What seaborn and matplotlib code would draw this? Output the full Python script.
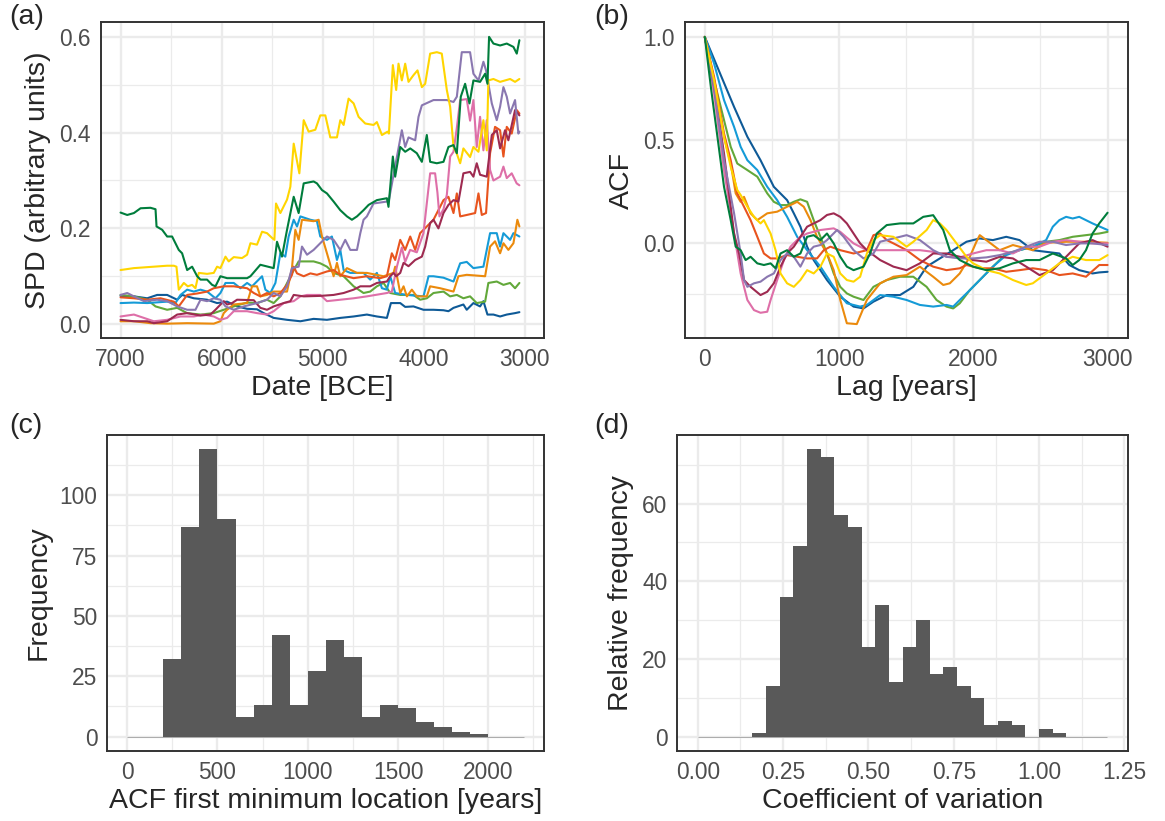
import numpy as np
import pandas as pd
import matplotlib
matplotlib.use("Agg")
import matplotlib.pyplot as plt
import seaborn as sns
from matplotlib.ticker import MultipleLocator, FormatStrFormatter

# ---- panel (a): SPD curves, (year BCE, SPD) ----
spd_dkblue = [(7000, .059), (6868, .058), (6736, .054), (6638, .061), (6539, .061), (6440, .051), (6391, .061),
              (6275, .054), (6144, .051), (6045, .044), (5946, .047), (5847, .037), (5748, .032), (5650, .031),
              (5584, .023), (5485, .013), (5353, .009), (5221, .006), (5090, .011), (4958, .009), (4826, .013),
              (4694, .016), (4563, .020), (4464, .016), (4365, .013), (4325, .044), (4233, .044), (4184, .036),
              (4102, .037), (4003, .030), (3904, .030), (3805, .029), (3756, .027), (3706, .034), (3608, .041),
              (3575, .030), (3509, .044), (3443, .037), (3410, .048), (3370, .020), (3311, .020), (3245, .016),
              (3179, .020), (3097, .023), (3054, .025)]
spd_ltgreen = [(7000, .061), (6868, .058), (6736, .051), (6654, .037), (6539, .030), (6440, .034), (6341, .023),
               (6209, .020), (6078, .023), (5979, .030), (5880, .037), (5748, .045), (5650, .044), (5551, .051),
               (5485, .044), (5419, .058), (5304, .106), (5238, .131), (5090, .131), (5024, .127), (4958, .120),
               (4892, .107), (4793, .100), (4694, .079), (4596, .065), (4530, .068), (4464, .079), (4398, .086),
               (4332, .065), (4233, .061), (4102, .061), (4036, .051), (3970, .054), (3904, .065), (3805, .068),
               (3739, .058), (3673, .061), (3608, .054), (3542, .058), (3476, .044), (3393, .047), (3361, .086),
               (3278, .089), (3212, .082), (3146, .086), (3097, .075), (3054, .086)]
spd_ltblue = [(7000, .044), (6868, .045), (6736, .044), (6539, .047), (6457, .044), (6407, .061), (6341, .072),
              (6275, .068), (6209, .072), (6144, .068), (6061, .054), (6012, .065), (5962, .086), (5880, .086),
              (5814, .075), (5748, .086), (5699, .079), (5633, .093), (5600, .100), (5567, .072), (5518, .065),
              (5468, .086), (5419, .148), (5370, .141), (5337, .183), (5287, .218), (5254, .204), (5221, .225),
              (5122, .218), (5057, .215), (5024, .183), (4958, .176), (4909, .183), (4859, .134), (4826, .155),
              (4793, .113), (4727, .107), (4596, .107), (4530, .093), (4464, .107), (4414, .075), (4365, .072),
              (4332, .100), (4283, .065), (4167, .061), (4003, .058), (3953, .100), (3904, .100), (3805, .097),
              (3706, .089), (3640, .127), (3575, .130), (3509, .117), (3410, .120), (3344, .190), (3278, .190),
              (3245, .162), (3212, .190), (3146, .176), (3113, .190), (3054, .183)]
spd_orange = [(7000, .006), (6868, .006), (6704, .002), (6539, .001), (6341, .002), (6078, .001), (6012, .006),
              (5979, .023), (5946, .030), (5880, .041), (5748, .044), (5699, .079), (5650, .079), (5617, .058),
              (5551, .061), (5485, .068), (5353, .068), (5304, .117), (5271, .197), (5238, .176), (5205, .218),
              (5090, .215), (5040, .218), (5007, .183), (4958, .148), (4892, .100), (4859, .128), (4826, .100),
              (4760, .117), (4661, .107), (4563, .107), (4398, .100), (4299, .107), (4283, .120), (4233, .065),
              (4200, .079), (4167, .058), (4118, .072), (4069, .058), (3970, .058), (3937, .079), (3838, .075),
              (3706, .068), (3657, .100), (3575, .103), (3393, .100), (3344, .162), (3295, .173), (3245, .148),
              (3212, .169), (3163, .155), (3113, .169), (3074, .218), (3054, .204)]
spd_redorange = [(7000, .056), (6868, .054), (6736, .051), (6605, .054), (6473, .047), (6424, .037), (6341, .061),
                 (6242, .064), (6144, .068), (6078, .075), (5979, .079), (5880, .079), (5748, .075), (5682, .065),
                 (5617, .058), (5551, .065), (5485, .058), (5419, .065), (5353, .082), (5304, .103), (5287, .120),
                 (5254, .106), (5188, .100), (5122, .106), (5057, .103), (4958, .110), (4892, .113), (4826, .103),
                 (4694, .096), (4563, .100), (4431, .096), (4365, .100), (4316, .148), (4283, .134), (4233, .176),
                 (4184, .155), (4134, .183), (4085, .155), (4036, .190), (3970, .204), (3904, .218), (3805, .259),
                 (3756, .266), (3706, .232), (3673, .273), (3640, .225), (3575, .228), (3492, .232), (3459, .273),
                 (3426, .228), (3384, .232), (3344, .357), (3295, .412), (3245, .405), (3212, .350), (3179, .412),
                 (3130, .398), (3080, .447), (3054, .440)]
spd_pink = [(7000, .016), (6868, .020), (6769, .013), (6671, .006), (6539, .009), (6407, .016), (6275, .016),
            (6177, .020), (6078, .016), (6012, .009), (5946, .013), (5880, .027), (5748, .027), (5650, .023),
            (5551, .020), (5485, .027), (5386, .044), (5287, .048), (5221, .058), (5155, .061), (5024, .061),
            (4958, .048), (4826, .051), (4694, .054), (4563, .058), (4365, .065), (4316, .068), (4266, .120),
            (4217, .160), (4184, .130), (4135, .155), (4069, .150), (4003, .190), (3937, .315), (3888, .315),
            (3865, .275), (3845, .225), (3805, .240), (3772, .270), (3739, .350), (3706, .360), (3673, .410),
            (3640, .468), (3575, .470), (3542, .425), (3509, .468), (3476, .370), (3443, .433), (3410, .363),
            (3377, .426), (3344, .322), (3311, .300), (3245, .308), (3212, .329), (3179, .305), (3130, .315),
            (3081, .294), (3054, .290)]
spd_maroon = [(7000, .009), (6868, .006), (6736, .006), (6671, .002), (6539, .006), (6440, .020), (6341, .023),
              (6209, .018), (6111, .020), (6061, .030), (5979, .048), (5946, .041), (5897, .044), (5847, .051),
              (5682, .050), (5617, .034), (5551, .030), (5485, .037), (5386, .044), (5320, .048), (5287, .061),
              (5188, .058), (5024, .059), (4892, .061), (4793, .065), (4694, .072), (4628, .079), (4530, .079),
              (4464, .086), (4365, .089), (4332, .100), (4299, .107), (4273, .100), (4233, .107), (4200, .128),
              (4151, .121), (4085, .134), (4019, .141), (3986, .162), (3937, .211), (3904, .218), (3855, .200),
              (3805, .232), (3756, .249), (3706, .259), (3657, .256), (3608, .315), (3542, .318), (3509, .308),
              (3476, .336), (3443, .312), (3377, .308), (3327, .395), (3278, .405), (3245, .367), (3196, .405),
              (3163, .384), (3097, .447), (3054, .436)]
spd_purple = [(7000, .061), (6934, .065), (6868, .058), (6769, .048), (6638, .051), (6539, .048), (6440, .037),
              (6341, .030), (6259, .030), (6209, .051), (6144, .048), (6078, .054), (6012, .051), (5962, .037),
              (5880, .030), (5781, .037), (5650, .044), (5551, .051), (5485, .065), (5419, .058), (5353, .079),
              (5304, .117), (5238, .120), (5205, .162), (5155, .145), (5090, .155), (5024, .169), (4958, .183),
              (4892, .176), (4826, .155), (4777, .176), (4727, .155), (4661, .155), (4628, .190), (4596, .218),
              (4563, .225), (4497, .252), (4365, .256), (4345, .259), (4217, .405), (4184, .370), (4151, .390),
              (4085, .384), (4052, .433), (4019, .457), (3904, .468), (3772, .468), (3706, .464), (3673, .475),
              (3624, .568), (3542, .568), (3509, .523), (3459, .509), (3410, .548), (3384, .530), (3327, .461),
              (3278, .426), (3245, .454), (3212, .495), (3179, .475), (3146, .440), (3097, .468), (3064, .398),
              (3054, .402)]
spd_yellow = [(7000, .113), (6868, .117), (6671, .120), (6539, .122), (6473, .122), (6447, .120), (6424, .072),
              (6374, .086), (6335, .079), (6292, .082), (6259, .075), (6226, .107), (6144, .105), (6078, .107),
              (6045, .120), (6012, .117), (5962, .141), (5930, .131), (5880, .140), (5798, .138), (5748, .145),
              (5715, .169), (5650, .166), (5600, .193), (5551, .190), (5501, .180), (5478, .176), (5462, .252),
              (5419, .232), (5353, .260), (5320, .287), (5287, .377), (5231, .315), (5188, .426), (5139, .402),
              (5073, .406), (5024, .436), (4974, .436), (4925, .390), (4859, .390), (4826, .426), (4793, .416),
              (4744, .471), (4694, .461), (4645, .433), (4579, .419), (4497, .416), (4464, .422), (4414, .395),
              (4358, .402), (4345, .398), (4306, .541), (4273, .489), (4250, .544), (4217, .509), (4184, .544),
              (4151, .506), (4102, .520), (4062, .530), (4019, .495), (3986, .502), (3937, .565), (3871, .568),
              (3822, .565), (3772, .489), (3739, .454), (3706, .370), (3673, .356), (3640, .336), (3608, .367),
              (3542, .349), (3509, .370), (3459, .360), (3410, .426), (3377, .363), (3361, .509), (3311, .512),
              (3245, .506), (3146, .512), (3097, .506), (3054, .512)]
spd_dkgreen = [(7000, .233), (6934, .228), (6868, .232), (6802, .242), (6704, .243), (6654, .240), (6644, .204),
               (6588, .197), (6539, .183), (6490, .183), (6424, .155), (6391, .148), (6341, .113), (6292, .120),
               (6242, .100), (6209, .093), (6144, .093), (6094, .082), (6061, .079), (6012, .100), (5946, .096),
               (5748, .096), (5715, .100), (5617, .124), (5485, .117), (5452, .172), (5403, .141), (5353, .197),
               (5287, .266), (5238, .232), (5188, .294), (5090, .298), (5057, .294), (5007, .280), (4958, .273),
               (4892, .256), (4826, .238), (4760, .225), (4711, .218), (4661, .225), (4596, .238), (4546, .249),
               (4464, .259), (4365, .263), (4349, .245), (4306, .350), (4283, .308), (4233, .370), (4184, .360),
               (4134, .367), (4069, .357), (4019, .339), (3970, .395), (3937, .339), (3871, .336), (3805, .339),
               (3756, .370), (3706, .374), (3673, .357), (3634, .475), (3591, .502), (3548, .461), (3509, .509),
               (3443, .506), (3393, .523), (3370, .502), (3354, .600), (3311, .586), (3245, .582), (3179, .586),
               (3113, .579), (3080, .565), (3054, .593)]

# ---- panel (b): ACF curves, (lag in years, ACF) ----
acf_dkblue = [(0, 1.0), (119, .814), (218, .66), (317, .515), (415, .401), (514, .272), (613, .207), (663, .143),
              (712, .078), (762, -.019), (811, -.084), (910, -.181), (1009, -.262), (1108, -.31), (1182, -.319),
              (1256, -.286), (1355, -.254), (1454, -.254), (1553, -.214), (1652, -.116), (1751, -.076),
              (1850, -.036), (1949, .005), (2048, .021), (2146, .013), (2245, .029), (2295, .021), (2344, .013),
              (2443, -.036), (2542, -.044), (2641, -.052), (2715, -.108), (2789, -.133), (2888, -.149),
              (2938, -.144), (3000, -.141)]
acf_ltblue = [(0, 1.0), (69, .871), (143, .693), (218, .563), (267, .466), (317, .401), (391, .353), (465, .272),
              (539, .207), (613, .126), (688, .029), (762, -.036), (861, -.116), (960, -.214), (1058, -.294),
              (1157, -.31), (1207, -.302), (1306, -.254), (1405, -.262), (1503, -.278), (1602, -.302),
              (1701, -.31), (1800, -.302), (1850, -.31), (1899, -.278), (1974, -.23), (2048, -.181),
              (2146, -.116), (2245, -.06), (2344, -.036), (2443, -.019), (2542, .013), (2592, .078),
              (2641, .11), (2691, .126), (2740, .118), (2789, .126), (2888, .094), (3000, .062)]
acf_ltgreen = [(0, 1.0), (69, .79), (143, .596), (193, .466), (242, .385), (317, .353), (391, .321), (465, .24),
               (514, .199), (564, .183), (613, .183), (663, .199), (712, .211), (762, .199), (811, .11),
               (861, .029), (910, -.052), (960, -.149), (1009, -.214), (1058, -.246), (1108, -.262),
               (1182, -.278), (1256, -.214), (1355, -.181), (1454, -.165), (1553, -.165), (1652, -.214),
               (1726, -.278), (1800, -.31), (1850, -.319), (1899, -.294), (1974, -.23), (2048, -.181),
               (2146, -.116), (2245, -.052), (2344, -.036), (2443, -.019), (2542, .005), (2641, .013),
               (2740, .029), (2839, .037), (2938, .045), (3000, .053)]
acf_orange = [(0, 1.0), (69, .79), (143, .515), (193, .385), (230, .24), (267, .199), (292, .223), (341, .143),
              (391, .11), (465, .143), (539, .151), (613, .175), (688, .199), (737, .175), (787, .11),
              (836, .029), (910, -.052), (960, -.133), (1009, -.278), (1058, -.391), (1132, -.395),
              (1207, -.278), (1306, -.197), (1405, -.165), (1503, -.157), (1602, -.116), (1701, -.165),
              (1776, -.205), (1825, -.197), (1899, -.149), (1974, -.068), (2023, .005), (2048, .037),
              (2097, .013), (2196, -.036), (2295, -.011), (2443, -.036), (2542, .0), (2691, .005),
              (2839, .005), (3000, .0)]
acf_redorange = [(0, 1.0), (69, .806), (143, .531), (193, .401), (242, .24), (292, .175), (341, .11), (391, .029),
                 (440, -.052), (490, -.076), (539, -.076), (613, -.06), (688, -.068), (762, -.076), (836, -.076),
                 (886, -.036), (935, -.019), (1009, -.036), (1108, -.052), (1207, -.036), (1256, .037),
                 (1306, .045), (1355, .013), (1405, -.003), (1503, -.036), (1602, -.084), (1701, -.116),
                 (1800, -.133), (1899, -.124), (1949, -.108), (2048, -.124), (2146, -.124), (2245, -.141),
                 (2344, -.133), (2443, -.124), (2542, -.133), (2641, -.157), (2740, -.149), (2839, -.165),
                 (2938, -.108), (3000, -.108)]
acf_yellow = [(0, 1.0), (69, .79), (143, .515), (193, .369), (242, .256), (267, .232), (317, .175), (366, .126),
              (415, .094), (440, .11), (490, .045), (527, -.036), (564, -.149), (613, -.197), (663, -.214),
              (712, -.181), (762, -.133), (811, -.149), (861, -.116), (910, -.052), (960, -.068),
              (1009, -.149), (1058, -.181), (1108, -.189), (1157, -.165), (1207, -.052), (1256, .013),
              (1306, .037), (1405, .029), (1503, -.019), (1553, .005), (1652, .062), (1701, .11), (1751, .094),
              (1800, .062), (1875, -.003), (1949, -.068), (1998, -.1), (2048, -.116), (2097, -.133),
              (2196, -.149), (2295, -.181), (2394, -.205), (2443, -.197), (2542, -.149), (2641, -.1),
              (2740, -.068), (2839, -.084), (2938, -.084), (3000, -.06)]
acf_purple = [(0, 1.0), (69, .757), (143, .401), (218, .143), (267, -.052), (292, -.181), (317, -.214),
              (366, -.197), (415, -.189), (465, -.165), (514, -.149), (564, -.084), (613, -.052), (663, -.068),
              (712, -.116), (762, -.052), (811, -.019), (861, -.011), (910, .013), (985, .062), (1034, .029),
              (1108, -.036), (1182, -.076), (1256, -.052), (1306, .005), (1405, .021), (1503, .037),
              (1602, .013), (1701, -.036), (1800, -.068), (1899, -.076), (1998, -.076), (2097, -.071),
              (2196, -.06), (2295, -.044), (2394, -.019), (2493, .005), (2592, .005), (2691, -.011),
              (2789, -.003), (2888, -.003), (3000, -.011)]
acf_pink = [(0, 1.0), (69, .725), (143, .353), (218, .045), (267, -.149), (292, -.214), (317, -.278),
            (366, -.327), (415, -.34), (465, -.335), (490, -.278), (539, -.181), (589, -.084), (638, -.019),
            (712, .029), (762, .045), (861, .062), (960, .07), (1009, .053), (1108, -.003), (1207, -.036),
            (1306, -.036), (1454, -.036), (1602, -.036), (1701, -.044), (1800, -.068), (1899, -.071),
            (1998, -.052), (2097, -.036), (2196, -.036), (2295, -.052), (2394, -.019), (2493, -.019),
            (2592, .005), (2691, .013), (2789, .005), (2888, -.003), (3000, -.003)]
acf_maroon = [(0, 1.0), (69, .757), (143, .434), (218, .045), (255, -.052), (292, -.181), (341, -.214),
              (415, -.254), (465, -.238), (514, -.197), (564, -.116), (613, -.052), (663, -.019), (712, .029),
              (762, .078), (811, .094), (861, .11), (910, .135), (960, .143), (1009, .126), (1058, .094),
              (1108, .045), (1157, -.003), (1207, -.036), (1306, -.084), (1405, -.116), (1503, -.133),
              (1602, -.1), (1701, -.052), (1800, -.052), (1899, -.068), (1998, -.084), (2097, -.092),
              (2196, -.068), (2295, -.076), (2394, -.116), (2493, -.157), (2592, -.133), (2691, -.068),
              (2789, -.003), (2888, .013), (3000, -.019)]
acf_dkgreen = [(0, 1.0), (45, .757), (94, .515), (143, .272), (193, .11), (230, -.019), (267, -.036),
               (304, -.084), (341, -.068), (391, -.1), (440, -.108), (490, -.1), (527, -.124), (564, -.052),
               (613, -.036), (663, -.068), (712, -.052), (762, .029), (811, .037), (861, .013), (910, .045),
               (960, -.003), (1009, -.068), (1058, -.116), (1108, -.133), (1182, -.116), (1231, -.052),
               (1281, .045), (1355, .086), (1454, .094), (1553, .094), (1627, .126), (1701, .134),
               (1776, .062), (1825, -.036), (1899, -.084), (1998, -.116), (2097, -.133), (2196, -.124),
               (2295, -.1), (2394, -.084), (2493, -.084), (2592, -.052), (2691, -.076), (2740, -.108),
               (2789, -.084), (2839, -.036), (2888, .045), (2938, .094), (3000, .146)]

series_order = ["dkblue", "ltgreen", "ltblue", "orange", "redorange",
                "pink", "maroon", "purple", "yellow", "dkgreen"]
series_colors = ["#0E5A97", "#62A83A", "#159BD7", "#EB8A0C", "#E8541E",
                 "#DE6FA8", "#9E2A50", "#8A77B0", "#FFD500", "#007D3C"]

# ---- panel (c): ACF first minimum histogram (bin width 100 yr) ----
acfmin_edges = [0, 100, 200, 300, 400, 500, 600, 700, 800, 900, 1000, 1100,
                1200, 1300, 1400, 1500, 1600, 1700, 1800, 1900, 2000, 2100, 2200]
acfmin_counts = [0, 0, 32, 87, 119, 90, 8, 13, 42, 13, 27, 40,
                 33, 8, 13, 12, 6, 4, 2, 1, 0, 0]

# ---- panel (d): coefficient of variation histogram (30 bins over 0-1.2) ----
cv_edges = [0.00, 0.04, 0.08, 0.12, 0.16, 0.20, 0.24, 0.28, 0.32, 0.36, 0.40,
            0.44, 0.48, 0.52, 0.56, 0.60, 0.64, 0.68, 0.72, 0.76, 0.80,
            0.84, 0.88, 0.92, 0.96, 1.00, 1.04, 1.08, 1.12, 1.16, 1.20]
cv_counts = [0, 0, 0, 0, 1, 13, 36, 49, 74, 72, 57, 54, 23, 34, 14,
             23, 30, 16, 18, 13, 10, 3, 4, 3, 0, 2, 1, 0, 0, 0]


sns.set_style("white")
plt.rcParams["font.family"] = ["Liberation Sans", "DejaVu Sans"]

TICK_SIZE = 16.4
TITLE_SIZE = 20.5
GRID = "#EBEBEB"
DARK = "#333333"


def long_frame(prefix, xname, yname):
    rows = []
    for name in series_order:
        for x, y in globals()[f"{prefix}_{name}"]:
            rows.append({xname: x, yname: y, "series": name})
    return pd.DataFrame(rows)


def style_axis(ax, xmaj, xmin, ymaj, ymin):
    ax.xaxis.set_major_locator(MultipleLocator(xmaj))
    ax.xaxis.set_minor_locator(MultipleLocator(xmin))
    ax.yaxis.set_major_locator(MultipleLocator(ymaj))
    ax.yaxis.set_minor_locator(MultipleLocator(ymin))
    ax.grid(which="major", color=GRID, linewidth=1.7, zorder=0)
    ax.grid(which="minor", color=GRID, linewidth=0.9, zorder=0)
    ax.set_axisbelow(True)
    for sp in ax.spines.values():
        sp.set_color(DARK)
        sp.set_linewidth(1.4)
    ax.tick_params(which="major", length=4, width=1.3, color=DARK,
                   labelsize=TICK_SIZE, labelcolor="#4D4D4D", pad=3)
    ax.tick_params(which="minor", length=0)


fig = plt.figure(figsize=(11.65, 8.21), dpi=100)
ax_a = fig.add_axes([0.0863, 0.5877, 0.3807, 0.3849])
ax_b = fig.add_axes([0.5877, 0.5877, 0.3803, 0.3849])
ax_c = fig.add_axes([0.0921, 0.0853, 0.3751, 0.3849])
ax_d = fig.add_axes([0.5814, 0.0853, 0.3866, 0.3849])

palette = dict(zip(series_order, series_colors))

# (a)
spd = long_frame("spd", "date", "spd")
sns.lineplot(data=spd, x="date", y="spd", hue="series", hue_order=series_order,
             palette=palette, estimator=None, linewidth=1.5, legend=False, ax=ax_a)
ax_a.set_xlim(7198, 2810)
ax_a.set_ylim(-0.03, 0.63)
style_axis(ax_a, 1000, 500, 0.2, 0.1)
ax_a.yaxis.set_major_formatter(FormatStrFormatter("%.1f"))
ax_a.set_xlabel("Date [BCE]", fontsize=TITLE_SIZE, labelpad=3)
ax_a.set_ylabel("SPD (arbitrary units)", fontsize=TITLE_SIZE, labelpad=6)

# (b)
acf = long_frame("acf", "lag", "acf")
sns.lineplot(data=acf, x="lag", y="acf", hue="series", hue_order=series_order,
             palette=palette, estimator=None, linewidth=1.5, legend=False, ax=ax_b)
ax_b.set_xlim(-150, 3150)
ax_b.set_ylim(-0.465, 1.07)
style_axis(ax_b, 1000, 500, 0.5, 0.25)
ax_b.yaxis.set_major_formatter(FormatStrFormatter("%.1f"))
ax_b.set_xlabel("Lag [years]", fontsize=TITLE_SIZE, labelpad=3)
ax_b.set_ylabel("ACF", fontsize=TITLE_SIZE, labelpad=6)

# (c)
c_mid = [(lo + hi) / 2 for lo, hi in zip(acfmin_edges[:-1], acfmin_edges[1:])]
sns.histplot(x=c_mid, weights=acfmin_counts, bins=acfmin_edges, color="#595959",
             alpha=1, linewidth=0, ax=ax_c, zorder=2)
ax_c.hlines(0, acfmin_edges[0], acfmin_edges[-1], color="#595959", linewidth=0.5,
            alpha=0.6, zorder=1)
ax_c.set_xlim(-110, 2310)
ax_c.set_ylim(-5.95, 124.95)
style_axis(ax_c, 500, 250, 25, 12.5)
ax_c.set_xlabel("ACF first minimum location [years]", fontsize=TITLE_SIZE, labelpad=3)
ax_c.set_ylabel("Frequency", fontsize=TITLE_SIZE, labelpad=6)

# (d)
d_mid = [(lo + hi) / 2 for lo, hi in zip(cv_edges[:-1], cv_edges[1:])]
sns.histplot(x=d_mid, weights=cv_counts, bins=cv_edges, color="#595959",
             alpha=1, linewidth=0, ax=ax_d, zorder=2)
ax_d.hlines(0, cv_edges[0], cv_edges[-1], color="#595959", linewidth=0.5,
            alpha=0.6, zorder=1)
ax_d.set_xlim(-0.06, 1.26)
ax_d.set_ylim(-3.7, 77.7)
style_axis(ax_d, 0.25, 0.125, 20, 10)
ax_d.xaxis.set_major_formatter(FormatStrFormatter("%.2f"))
ax_d.set_xlabel("Coefficient of variation", fontsize=TITLE_SIZE, labelpad=3)
ax_d.set_ylabel("Relative frequency", fontsize=TITLE_SIZE, labelpad=6)

for label, x, y in [("(a)", 0.008, 0.995), ("(b)", 0.510, 0.995),
                    ("(c)", 0.008, 0.497), ("(d)", 0.510, 0.497)]:
    fig.text(x, y, label, fontsize=TITLE_SIZE, va="top", ha="left")

fig.savefig("out.png", dpi=100)
